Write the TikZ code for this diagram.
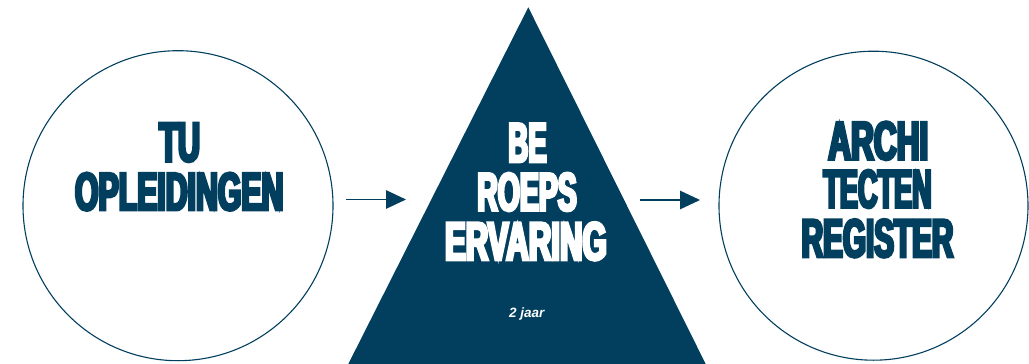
\documentclass[tikz,border=0pt]{standalone}
\usepackage{fontspec}
\usetikzlibrary{arrows.meta}
\setmainfont{Liberation Sans}
\newfontfamily\headfont{Liberation Sans Bold}[FakeStretch=0.5,FakeBold=4.8]
\newfontfamily\smallfont{Liberation Sans Bold Italic}
\definecolor{navy}{HTML}{023F5F}
\newcommand{\fitline}[3]{\resizebox*{#1}{#2}{\headfont #3}}
\tikzset{
  ring/.style={circle, draw=navy, line width=1.1pt, minimum size=#1, inner sep=0pt},
  headtext/.style={inner sep=0pt, anchor=center},
  flow/.style={draw=navy, line width=1.2pt, -{Triangle[length=20pt,width=18.5pt]}},
}
\begin{document}
\begin{tikzpicture}[x=1pt,y=-1pt]
\useasboundingbox (0,0) rectangle (1029,364);
% circles
\node[ring=310pt] (tu) at (178,205.7) {};
\node[ring=309pt] (reg) at (873.5,205.7) {};
% triangle
\coordinate (apex) at (528.3,7.3);
\coordinate (bl) at (348.3,364);
\coordinate (br) at (705.7,364);
\fill[navy] (apex) -- (br) -- (bl) -- cycle;
% arrows
\coordinate (a1s) at (346,199.5);
\coordinate (a1e) at (406,199.5);
\coordinate (a2s) at (640,200);
\coordinate (a2e) at (700,200);
\draw[flow] (a1s) -- (a1e);
\draw[flow] (a2s) -- (a2e);
% left text
\node[headtext, text=navy] (l1) at (179.65,142.5) {\fitline{40.7pt}{39pt}{TU}};
\node[headtext, text=navy] (l2) at (179.2,191.7) {\fitline{208.3pt}{38pt}{OPLEIDINGEN}};
% middle text
\node[headtext, text=white] (m1) at (527.5,142.8) {\fitline{38.4pt}{38.5pt}{BE}};
\node[headtext, text=white] (m2) at (527,192) {\fitline{99.4pt}{38.3pt}{ROEPS}};
\node[headtext, text=white] (m3) at (525.85,241.35) {\fitline{161.7pt}{38.3pt}{ERVARING}};
\node[inner sep=0pt, anchor=base, text=white, font=\smallfont\fontsize{13.5pt}{15pt}\selectfont] (jaar) at (526.7,317.3) {2 jaar};
% right text
\node[headtext, text=navy] (r1) at (878.3,140.8) {\fitline{100pt}{38.5pt}{ARCHI}};
\node[headtext, text=navy] (r2) at (877.5,189) {\fitline{108.4pt}{38.3pt}{TECTEN}};
\node[headtext, text=navy] (r3) at (877.5,238.35) {\fitline{151.6pt}{38.3pt}{REGISTER}};
\end{tikzpicture}
\end{document}
